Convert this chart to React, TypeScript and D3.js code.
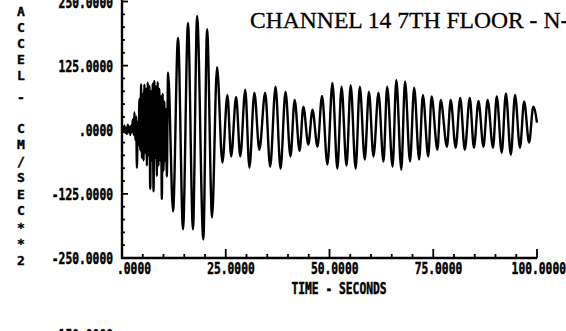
import React from 'react';
import * as d3 from 'd3';

// ---- data ----
const TIME_S = [
  0.0, 0.2, 0.4, 0.6, 0.8, 1.0, 1.2, 1.4, 1.6, 1.8, 2.0, 2.2, 2.4, 2.6, 2.8, 3.0, 3.2, 3.4, 3.6, 3.8,
  4.0, 4.2, 4.4, 4.6, 4.8, 5.0, 5.2, 5.4, 5.6, 5.8, 6.0, 6.2, 6.4, 6.6, 6.8, 7.0, 7.2, 7.4, 7.6, 7.8,
  8.0, 8.2, 8.4, 8.6, 8.8, 9.0, 9.2, 9.4, 9.6, 9.8, 10.0, 10.2, 10.4, 10.6, 10.8, 11.1,
  12.3, 13.5, 14.7, 15.9, 17.1, 18.1, 19.6, 20.5, 21.7, 22.9, 24.2, 25.4, 26.3, 27.5, 28.5, 29.7,
  30.7, 31.9, 33.1, 34.5, 35.7, 37.0, 38.2, 39.4, 40.6, 41.6, 42.8, 43.7, 44.9, 45.9, 47.1, 48.2,
  49.5, 50.7, 51.9, 52.9, 54.1, 55.1, 56.3, 57.3, 58.5, 59.5, 60.6, 61.8, 63.0, 63.9, 65.2, 66.1,
  67.3, 68.2, 69.4, 70.4, 71.6, 72.5, 73.8, 74.6, 76.0, 76.8, 78.3, 79.2, 80.4, 81.5, 82.6, 83.8,
  84.8, 85.9, 87.1, 88.1, 89.4, 90.3, 91.5, 92.5, 93.7, 94.7, 95.9, 96.9, 98.1, 99.1, 100.0,
];
const ACCEL = [
  0, 6, -4, 8, -6, 4, -8, 10, -5, 6, -10, 8, -4, 20, -10, 34, -20, 26, -74, 15,
  -30, 60, -40, 89, -55, 70, -60, 88, -45, 80, -70, 92, -50, 85, -115, 75, -60, 90, -120, 95,
  -55, 85, -90, 93, -70, 80, -60, 65, -135, 70, -80, 55, -60, 40, -91, 111,
  -159, 179, -194, 208, -194, 222, -214, 196, -171, 122, -64, 68, -52, 64, -52, 78,
  -74, 72, -39, 72, -72, 84, -76, 74, -52, 58, -41, 45, -29, 39, -33, 66,
  -68, 91, -76, 84, -70, 87, -76, 84, -58, 74, -52, 72, -62, 84, -72, 97,
  -78, 94, -62, 82, -58, 68, -52, 65, -39, 58, -33, 58, -35, 62, -39, 62,
  -35, 56, -33, 58, -35, 65, -45, 71, -49, 68, -35, 55, -25, 45, 14,
];

const X_TICKS = [0, 25, 50, 75, 100];
const X_TICK_LABELS = ['.0000', '25.0000', '50.0000', '75.0000', '100.0000'];
const Y_TICKS = [250, 125, 0, -125, -250];
const Y_TICK_LABELS = ['250.0000', '125.0000', '.0000', '-125.0000', '-250.0000'];
const NEXT_CHART_LABEL = '150.0000';
const TITLE = 'CHANNEL 14 7TH FLOOR - N-S';
const X_TITLE = 'TIME - SECONDS';
const Y_TITLE = 'ACCEL - CM/SEC**2';

const W = 566;
const H = 331;
const MONO = "'DejaVu Sans Mono', monospace";
const LABEL_FS = 11.3; // ~6.8px per character
const STRETCH = 1.45; // tall, narrow plotter glyphs

function PlotText(props: {
  x: number;
  y: number;
  anchor: 'start' | 'middle' | 'end';
  text: string;
}) {
  return (
    <text
      transform={`translate(${props.x},${props.y}) scale(1,${STRETCH})`}
      x={0}
      y={0}
      textAnchor={props.anchor}
      dominantBaseline="central"
      fontFamily={MONO}
      fontWeight="bold"
      fontSize={LABEL_FS}
      fill="#000"
      stroke="#000"
      strokeWidth={0.35}
    >
      {props.text}
    </text>
  );
}

export default function App() {
  const x = d3.scaleLinear().domain([0, 100]).range([122, 537]);
  const y = d3.scaleLinear().domain([-250, 250]).range([258, 1.5]);

  const line = d3
    .line<number>()
    .x((_, i) => x(TIME_S[i]))
    .y((d) => y(d))
    .curve(d3.curveMonotoneX);

  const xMinor = d3.range(0, 101, 5);
  const yMinor = d3.range(-250, 251, 25);

  const [yPart1, yPart2] = Y_TITLE.split(' - ');
  const yTitleChars: { c: string; cy: number }[] = [];
  yPart1.split('').forEach((c, i) => yTitleChars.push({ c, cy: 11 + i * 16 }));
  yTitleChars.push({ c: '-', cy: 97 });
  yPart2.split('').forEach((c, i) => yTitleChars.push({ c, cy: 128 + i * 16.5 }));

  const x0 = x(0);
  const yBottom = y(-250);

  return (
    <svg
      width={W}
      height={H}
      viewBox={`0 0 ${W} ${H}`}
      style={{ position: 'absolute', left: 0, top: 0, background: '#fff' }}
    >
      <rect x={0} y={0} width={W} height={H} fill="#fff" />

      {/* title */}
      <text
        x={250}
        y={28}
        fontFamily="'Liberation Serif', 'Times New Roman', serif"
        fontSize={23.6}
        fill="#000"
        stroke="#000"
        strokeWidth={0.3}
      >
        {TITLE}
      </text>

      {/* axes */}
      <line x1={x0} y1={0} x2={x0} y2={yBottom + 1} stroke="#000" strokeWidth={2.4} />
      <line x1={x0 - 1} y1={yBottom} x2={x(100)} y2={yBottom} stroke="#000" strokeWidth={2.4} />

      {/* x ticks */}
      {xMinor.map((t) => {
        const major = t % 25 === 0;
        return (
          <line
            key={'xt' + t}
            x1={x(t)}
            x2={x(t)}
            y1={yBottom}
            y2={yBottom - (major ? 9 : 4)}
            stroke="#000"
            strokeWidth={1.8}
          />
        );
      })}
      {/* y ticks */}
      {yMinor.map((v) => {
        const major = v % 125 === 0;
        return (
          <line
            key={'yt' + v}
            x1={x0}
            x2={x0 + (major ? 6 : 3)}
            y1={y(v)}
            y2={y(v)}
            stroke="#000"
            strokeWidth={1.8}
          />
        );
      })}

      {/* x tick labels */}
      {X_TICKS.map((t, i) => (
        <PlotText key={'xl' + t} x={x(t) + 29} y={268} anchor="end" text={X_TICK_LABELS[i]} />
      ))}

      {/* y tick labels */}
      {Y_TICKS.map((v, i) => (
        <PlotText key={'yl' + v} x={113} y={y(v) + 0.5} anchor="end" text={Y_TICK_LABELS[i]} />
      ))}

      {/* partially visible label of the next chart below */}
      <PlotText x={113} y={335} anchor="end" text={NEXT_CHART_LABEL} />

      {/* x axis title */}
      <PlotText x={339} y={288} anchor="middle" text={X_TITLE} />

      {/* y axis title, stacked characters */}
      {yTitleChars.map((d, i) => (
        <text
          key={'yc' + i}
          x={21}
          y={d.cy}
          textAnchor="middle"
          dominantBaseline="central"
          fontFamily={MONO}
          fontWeight="bold"
          fontSize={13}
          fill="#000"
          stroke="#000"
          strokeWidth={0.4}
        >
          {d.c}
        </text>
      ))}

      {/* acceleration trace */}
      <path d={line(ACCEL) || ''} fill="none" stroke="#000" strokeWidth={2.4} strokeLinejoin="round" />
    </svg>
  );
}
